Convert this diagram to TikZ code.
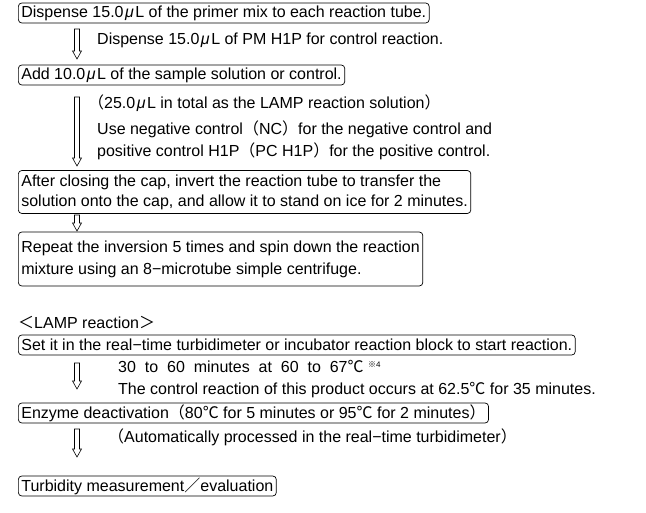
\documentclass[tikz,border=0pt]{standalone}
\usepackage{fontspec}
\setmainfont{Liberation Sans}
\newfontfamily\cjk{Noto Sans CJK JP}
\usetikzlibrary{calc}
\newcommand\jp[1]{{\cjk #1}}
\newcommand\muL{\kern1.5pt{\itshape μ}\kern1.5pt L}
\newcommand\degC{\jp{℃}}
\tikzset{
  stepbox/.style={draw, line width=0.7pt, rounded corners=3.5pt, anchor=west,
    inner xsep=3pt, inner ysep=0pt, minimum height=20pt, align=left},
  note/.style={anchor=west, inner sep=0pt},
}
% hollow down arrow from #1 (top) to #2 (tip)
\newcommand\hollowarrow[2]{%
  \draw[line width=0.6pt, line join=miter] let \p1=(#1), \p2=(#2) in
    (\x1-2.5pt,\y1) -- (\x1+2.5pt,\y1) -- (\x1+2.5pt,\y2+8pt) -- (\x1+4.5pt,\y2+8pt)
    -- (\x2,\y2) -- (\x1-4.5pt,\y2+8pt) -- (\x1-2.5pt,\y2+8pt) -- cycle;}
\begin{document}
\begin{tikzpicture}[x=1pt, y=-1pt, font=\fontsize{16}{20}\selectfont]
\useasboundingbox (0,0) rectangle (646,513);
% preparation
\node[stepbox] (mix) at (18,13) {Dispense 15.0\muL{} of the primer mix to each reaction tube.};
\node[note] (pm) at (97,40) {Dispense 15.0\muL{} of PM H1P for control reaction.};
\node[stepbox] (sample) at (18,75) {Add 10.0\muL{} of the sample solution or control.};
\node[note] (total) at (88,103) {\jp{（}25.0\muL{} in total as the LAMP reaction solution\jp{）}};
\node[note] (nc) at (97,129) {Use negative control\jp{（}NC\jp{）}for the negative control and};
\node[note] (pc) at (97,151) {positive control H1P\jp{（}PC H1P\jp{）}for the positive control.};
\node[stepbox, minimum height=43pt] (cap) at (18,192)
  {After closing the cap, invert the reaction tube to transfer the\\
   solution onto the cap, and allow it to stand on ice for 2 minutes.};
\node[stepbox, minimum height=54pt, font=\fontsize{16}{22}\selectfont] (spin) at (18,259)
  {Repeat the inversion 5 times and spin down the reaction\\
   mixture using an 8−microtube simple centrifuge.};
% LAMP reaction
\node[note] (lamp) at (18,322) {\jp{＜}LAMP reaction\jp{＞}};
\node[stepbox] (start) at (18,345) {Set it in the real−time turbidimeter or incubator reaction block to start reaction.};
\node[note] (temp) at (118,367) {30~~to~~60~~minutes~~at~~60~~to~~67\degC\ \raisebox{5pt}{\fontsize{8}{8}\selectfont\jp{※}4}};
\node[note] (ctrl) at (118,390) {The control reaction of this product occurs at 62.5\degC\ for 35 minutes.};
\node[stepbox] (stop) at (18,413) {Enzyme deactivation\jp{（}80\degC\ for 5 minutes or 95\degC\ for 2 minutes\jp{）}};
\node[note] (auto) at (108,437) {\jp{（}Automatically processed in the real−time turbidimeter\jp{）}};
\node[stepbox] (eval) at (18,486) {Turbidity measurement\jp{／}evaluation};
% arrows
\coordinate (t1) at (77,29);  \coordinate (h1) at (77,59);
\coordinate (t2) at (77,97);  \coordinate (h2) at (77,166);
\coordinate (t3) at (77,215); \coordinate (h3) at (77,231);
\coordinate (t4) at (77,363); \coordinate (h4) at (77,389);
\coordinate (t5) at (77,429); \coordinate (h5) at (77,457);
\foreach \i in {1,...,5}
  \hollowarrow{t\i}{h\i};
\end{tikzpicture}
\end{document}
